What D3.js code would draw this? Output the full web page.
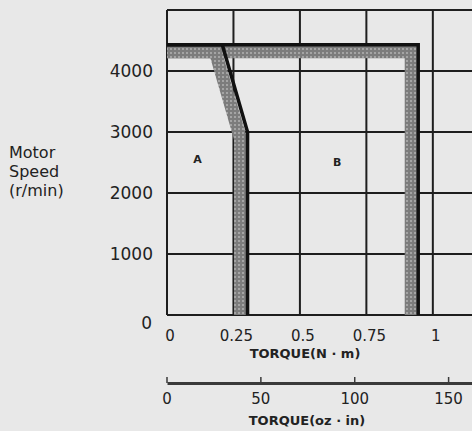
<!DOCTYPE html>
<html>
<head>
<meta charset="utf-8">
<script src="https://cdn.jsdelivr.net/npm/d3@7"></script>
<style>
  body { margin: 0; background: #e8e8e8; }
  svg { display: block; font-family: "DejaVu Sans", sans-serif; }
</style>
</head>
<body>
<div id="chart"></div>
<script>
// data
var speedTicks = [0, 1000, 2000, 3000, 4000]
var torqueTicks = [0, 0.25, 0.5, 0.75, 1]
var torqueTickLabels = ["0", "0.25", "0.5", "0.75", "1"]
var ozTicks = [0, 50, 100, 150]

// region B: outer boundary (N·m, r/min)
var curveBTorque = [0, 0.945, 0.945]
var curveBSpeed = [4430, 4430, 0]
// region A: inner boundary
var curveATorque = [0, 0.208, 0.303, 0.303]
var curveASpeed = [4430, 4430, 3000, 0]

var regionLabels = ["A", "B"]
var regionTorque = [0.115, 0.64]
var regionSpeed = [2500, 2450]

var NM_TO_OZIN = 141.6

var width = 472, height = 431
var plotLeft = 167, plotTop = 10, plotBottom = 315, plotRight = 486

var svg = d3.select("#chart").append("svg")
  .attr("width", width)
  .attr("height", height)

var x = d3.scaleLinear().domain([0, 1.2]).range([plotLeft, plotRight])
var y = d3.scaleLinear().domain([0, 5000]).range([plotBottom, plotTop])
var xOz = d3.scaleLinear().domain([0, 1.2 * NM_TO_OZIN]).range([plotLeft, plotRight])

// halftone pattern for the grey bands
var defs = svg.append("defs")
var pat = defs.append("pattern")
  .attr("id", "dots")
  .attr("width", 4).attr("height", 4)
  .attr("patternUnits", "userSpaceOnUse")
pat.append("rect").attr("width", 4).attr("height", 4).attr("fill", "#7c7c7c")
pat.append("circle").attr("cx", 2).attr("cy", 2).attr("r", 0.9).attr("fill", "#b8b8b8")

defs.append("clipPath").attr("id", "plotclip")
  .append("rect")
  .attr("x", plotLeft).attr("y", plotTop)
  .attr("width", plotRight - plotLeft).attr("height", plotBottom - plotTop)

// grid
var grid = svg.append("g").attr("stroke", "#1e1e1e").attr("stroke-width", 2)
grid.selectAll("line.v")
  .data(torqueTicks)
  .enter().append("line")
  .attr("x1", function(d) { return x(d) })
  .attr("x2", function(d) { return x(d) })
  .attr("y1", plotTop).attr("y2", plotBottom)
grid.selectAll("line.h")
  .data(speedTicks.concat([5000]))
  .enter().append("line")
  .attr("x1", plotLeft).attr("x2", plotRight)
  .attr("y1", function(d) { return y(d) })
  .attr("y2", function(d) { return y(d) })

// boundary curves
var line = d3.line()
  .x(function(d) { return x(d[0]) })
  .y(function(d) { return y(d[1]) })

var curves = [d3.zip(curveATorque, curveASpeed), d3.zip(curveBTorque, curveBSpeed)]

var plot = svg.append("g").attr("clip-path", "url(#plotclip)")
plot.selectAll("path.band")
  .data(curves)
  .enter().append("path")
  .attr("d", line)
  .attr("fill", "none")
  .attr("stroke", "url(#dots)")
  .attr("stroke-width", 13)
  .attr("transform", "translate(-7,7)")
plot.selectAll("path.edge")
  .data(curves)
  .enter().append("path")
  .attr("d", line)
  .attr("fill", "none")
  .attr("stroke", "#111")
  .attr("stroke-width", 3.5)

// region labels
svg.selectAll("text.region")
  .data(regionLabels)
  .enter().append("text")
  .attr("x", function(d, i) { return x(regionTorque[i]) })
  .attr("y", function(d, i) { return y(regionSpeed[i]) })
  .attr("text-anchor", "middle")
  .attr("font-size", 11)
  .attr("font-weight", "bold")
  .attr("fill", "#222")
  .text(function(d) { return d })

// y tick labels
svg.selectAll("text.ytick")
  .data(speedTicks)
  .enter().append("text")
  .attr("x", function(d) { return d == 0 ? 152 : 153 })
  .attr("y", function(d) { return y(d) + (d == 0 ? 14 : 6) })
  .attr("text-anchor", "end")
  .attr("font-size", 17)
  .attr("fill", "#222")
  .text(function(d) { return d })

// y title
svg.append("text")
  .attr("font-size", 16)
  .attr("fill", "#222")
  .selectAll("tspan")
  .data(["Motor", "Speed", "(r/min)"])
  .enter().append("tspan")
  .attr("x", 9)
  .attr("y", function(d, i) { return 158 + i * 19 })
  .text(function(d) { return d })

// N·m tick labels
svg.selectAll("text.xtick")
  .data(torqueTicks)
  .enter().append("text")
  .attr("x", function(d) { return x(d) + 3 })
  .attr("y", 341)
  .attr("text-anchor", "middle")
  .attr("font-size", 15)
  .attr("fill", "#222")
  .text(function(d, i) { return torqueTickLabels[i] })

svg.append("text")
  .attr("x", 305).attr("y", 358)
  .attr("text-anchor", "middle")
  .attr("font-size", 13)
  .attr("font-weight", "bold")
  .attr("fill", "#222")
  .text("TORQUE(N · m)")

// second torque axis in oz·in
var ozAxis = d3.axisBottom(xOz).tickValues(ozTicks).tickSize(0).tickFormat("")
svg.append("g")
  .attr("transform", "translate(0,383)")
  .call(ozAxis)
  .call(function(g) {
    g.select(".domain").attr("stroke", "#3a3a3a").attr("stroke-width", 3)
  })
svg.selectAll("line.oztick")
  .data(ozTicks)
  .enter().append("line")
  .attr("x1", function(d) { return xOz(d) })
  .attr("x2", function(d) { return xOz(d) })
  .attr("y1", 377).attr("y2", 383)
  .attr("stroke", "#3a3a3a").attr("stroke-width", 1.5)

svg.selectAll("text.oz")
  .data(ozTicks)
  .enter().append("text")
  .attr("x", function(d) { return xOz(d) })
  .attr("y", 404)
  .attr("text-anchor", "middle")
  .attr("font-size", 15)
  .attr("fill", "#222")
  .text(function(d) { return d })

svg.append("text")
  .attr("x", 307).attr("y", 425)
  .attr("text-anchor", "middle")
  .attr("font-size", 13)
  .attr("font-weight", "bold")
  .attr("fill", "#222")
  .text("TORQUE(oz · in)")
</script>
</body>
</html>
